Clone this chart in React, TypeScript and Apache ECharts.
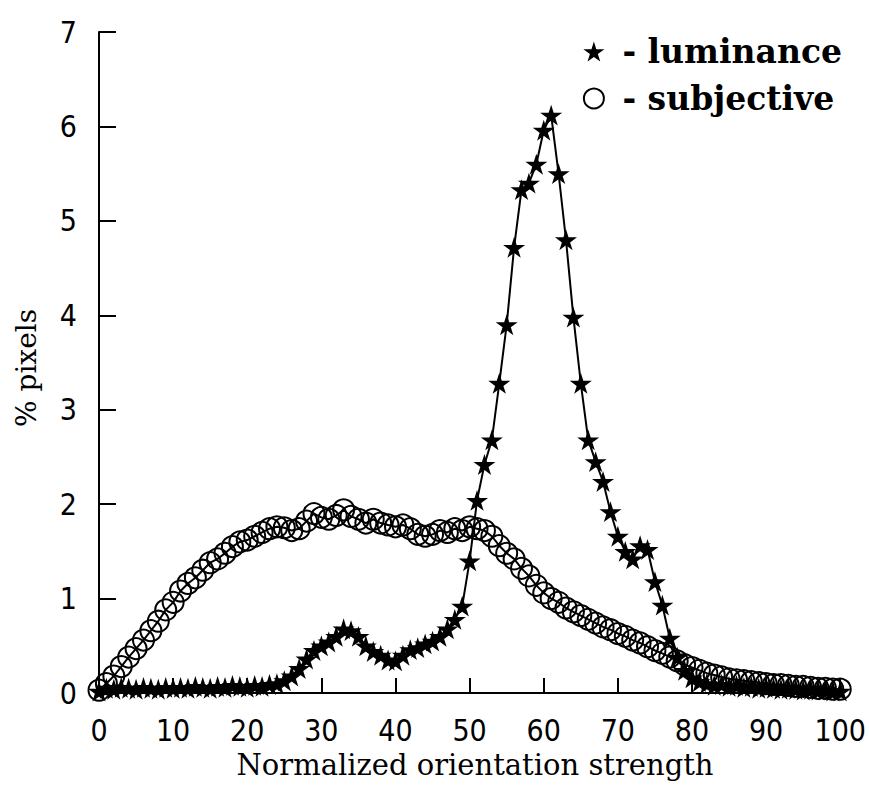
import React, { useEffect, useRef } from "react";
import * as echarts from "echarts";

const strength: number[] = Array.from({ length: 101 }, (_, i) => i);

const luminance: number[] = [
  0.02, 0.05, 0.04, 0.06, 0.05, 0.04, 0.06, 0.05, 0.04, 0.06,
  0.05, 0.06, 0.05, 0.07, 0.06, 0.05, 0.07, 0.06, 0.08, 0.07,
  0.06, 0.08, 0.07, 0.09, 0.1, 0.13, 0.18, 0.26, 0.36, 0.45,
  0.5, 0.54, 0.6, 0.68, 0.66, 0.6, 0.5, 0.44, 0.4, 0.35,
  0.34, 0.4, 0.46, 0.48, 0.52, 0.55, 0.6, 0.68, 0.78, 0.92,
  1.4, 2.04, 2.42, 2.68, 3.28, 3.9, 4.72, 5.33, 5.4, 5.6,
  5.96, 6.12, 5.5, 4.8, 3.98, 3.28, 2.68, 2.45, 2.24, 1.92,
  1.66, 1.5, 1.42, 1.56, 1.52, 1.18, 0.93, 0.58, 0.38, 0.24,
  0.16, 0.12, 0.1, 0.08, 0.09, 0.07, 0.08, 0.06, 0.07, 0.05,
  0.06, 0.05, 0.04, 0.05, 0.04, 0.03, 0.04, 0.03, 0.03, 0.02,
  0.02,
];

const subjective: number[] = [
  0.03, 0.1, 0.18, 0.28, 0.38, 0.47, 0.56, 0.66, 0.76, 0.88,
  0.96, 1.08, 1.16, 1.22, 1.3, 1.38, 1.42, 1.48, 1.55, 1.6,
  1.62, 1.66, 1.7, 1.74, 1.76, 1.75, 1.72, 1.74, 1.82, 1.9,
  1.86, 1.84, 1.88, 1.94, 1.87, 1.84, 1.8, 1.84, 1.8, 1.78,
  1.76, 1.78, 1.74, 1.68, 1.66, 1.68, 1.72, 1.7, 1.74, 1.72,
  1.76, 1.74, 1.72, 1.66, 1.56, 1.48, 1.42, 1.32, 1.24, 1.14,
  1.06, 1.0, 0.96, 0.9, 0.86, 0.82, 0.78, 0.74, 0.7, 0.67,
  0.63, 0.6, 0.56, 0.53, 0.49, 0.45, 0.42, 0.38, 0.34, 0.3,
  0.27, 0.24, 0.21, 0.19, 0.17, 0.15, 0.14, 0.13, 0.12, 0.11,
  0.1, 0.09, 0.09, 0.08, 0.07, 0.07, 0.06, 0.05, 0.05, 0.04,
  0.04,
];

const STAR =
  "path://M50,0 L61,35 L98,35 L68,57 L79,91 L50,70 L21,91 L32,57 L2,35 L39,35 Z";

const tickFont = "'Liberation Sans Narrow', 'DejaVu Sans Condensed', sans-serif";
const serif = "'DejaVu Serif', 'Liberation Serif', serif";

export default function App() {
  const ref = useRef<HTMLDivElement>(null);
  useEffect(() => {
    if (!ref.current) return;
    const chart = echarts.init(ref.current, undefined, { renderer: "svg" });
    chart.setOption({
      animation: false,
      backgroundColor: "#fff",
      grid: { left: 99, right: 25, top: 32, bottom: 110, containLabel: false },
      legend: {
        orient: "vertical",
        right: 22,
        top: 30,
        itemWidth: 24,
        itemHeight: 20,
        itemGap: 14,
        formatter: (n: string) => " - " + n,
        textStyle: { fontFamily: serif, fontWeight: "bold", fontSize: 33, color: "#000" },
        data: [
          { name: "luminance", icon: STAR },
          { name: "subjective", icon: "circle" },
        ],
      },
      xAxis: {
        type: "value",
        min: 0,
        max: 100,
        interval: 10,
        axisLine: { show: true, lineStyle: { color: "#000", width: 2 } },
        axisTick: { show: true, inside: true, length: 15, lineStyle: { color: "#000", width: 2 } },
        axisLabel: { margin: 22, fontFamily: tickFont, fontSize: 30, color: "#000" },
        splitLine: { show: false },
      },
      yAxis: {
        type: "value",
        min: 0,
        max: 7,
        interval: 1,
        axisLine: { show: true, lineStyle: { color: "#000", width: 2 } },
        axisTick: { show: true, inside: true, length: 17, lineStyle: { color: "#000", width: 2 } },
        axisLabel: { margin: 22, fontFamily: tickFont, fontSize: 30, color: "#000" },
        splitLine: { show: false },
      },
      graphic: [
        {
          type: "text",
          x: 475,
          y: 750,
          style: {
            text: "Normalized orientation strength",
            font: `29px ${serif}`,
            fill: "#000",
            align: "center",
            verticalAlign: "top",
          },
        },
        {
          type: "text",
          x: 12,
          y: 368,
          rotation: Math.PI / 2,
          style: {
            text: "% pixels",
            font: `28px ${serif}`,
            fill: "#000",
            align: "center",
            verticalAlign: "top",
          },
        },
      ],
      series: [
        {
          name: "subjective",
          type: "line",
          data: strength.map((x, i) => [x, subjective[i]]),
          symbol: "circle",
          symbolSize: 21,
          itemStyle: { color: "rgba(0,0,0,0)", borderColor: "#000", borderWidth: 2 },
          lineStyle: { color: "#000", width: 2 },
          z: 2,
        },
        {
          name: "luminance",
          type: "line",
          data: strength.map((x, i) => [x, luminance[i]]),
          symbol: STAR,
          symbolSize: 22,
          symbolKeepAspect: true,
          itemStyle: { color: "#000" },
          lineStyle: { color: "#000", width: 2 },
          z: 3,
        },
      ],
    });
    return () => chart.dispose();
  }, []);
  return (
    <div
      ref={ref}
      style={{ position: "absolute", left: 0, top: 0, width: 869, height: 803 }}
    />
  );
}
